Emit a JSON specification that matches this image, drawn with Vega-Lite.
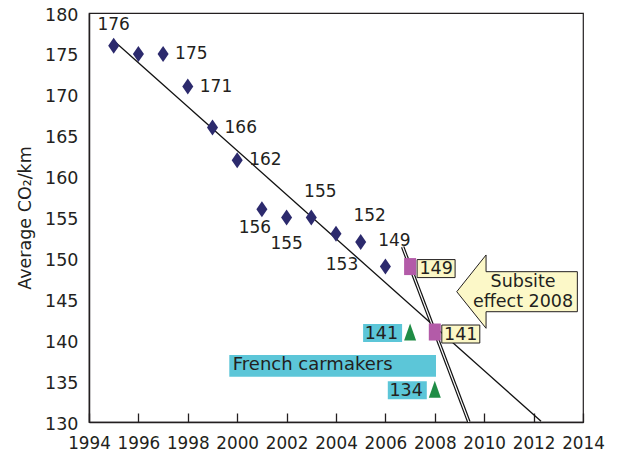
{
  "$schema": "https://vega.github.io/schema/vega-lite/v6.json",
  "width": 494,
  "height": 409,
  "autosize": "none",
  "padding": {"left": 89, "top": 13, "right": 39, "bottom": 32},
  "background": "white",
  "config": {
    "font": "DejaVu Sans",
    "view": {"stroke": "#231f20", "strokeWidth": 1.2},
    "axis": {
      "grid": false,
      "domainColor": "#231f20",
      "domainWidth": 1.5,
      "tickColor": "#231f20",
      "tickWidth": 1.3,
      "labelColor": "#231f20",
      "titleColor": "#231f20",
      "titleFontWeight": "normal",
      "labelOverlap": false,
      "labelFlush": false
    },
    "text": {"font": "DejaVu Sans", "color": "#231f20"}
  },
  "resolve": {"axis": {"x": "independent", "y": "independent"}},
  "datasets": {
    "avg": [
      {"year": 1995, "value": 176, "label": "176", "pos": "above"},
      {"year": 1996, "value": 175, "label": "", "pos": "none"},
      {"year": 1997, "value": 175, "label": "175", "pos": "right"},
      {"year": 1998, "value": 171, "label": "171", "pos": "right"},
      {"year": 1999, "value": 166, "label": "166", "pos": "right"},
      {"year": 2000, "value": 162, "label": "162", "pos": "right"},
      {"year": 2001, "value": 156, "label": "156", "pos": "belowleft"},
      {"year": 2002, "value": 155, "label": "155", "pos": "below"},
      {"year": 2003, "value": 155, "label": "155", "pos": "aboveright"},
      {"year": 2004, "value": 153, "label": "153", "pos": "belowright"},
      {"year": 2005, "value": 152, "label": "152", "pos": "aboveright"},
      {"year": 2006, "value": 149, "label": "149", "pos": "aboveright"}
    ],
    "yticks": [
      {"value": 130}, {"value": 135}, {"value": 140}, {"value": 145}, {"value": 150}, {"value": 155},
      {"value": 160}, {"value": 165}, {"value": 170}, {"value": 175}, {"value": 180}
    ],
    "trend": [
      {"year": 1995, "value": 176.6},
      {"year": 2012.3, "value": 130.1}
    ],
    "target": [
      {"year": 2006.7, "value": 151.4},
      {"year": 2009.38, "value": 130}
    ],
    "subsite": [
      {"year": 2007, "value": 149, "label": "149"},
      {"year": 2008, "value": 141, "label": "141"}
    ],
    "french": [
      {"year": 2007, "value": 141, "label": "141"},
      {"year": 2008, "value": 134, "label": "134"}
    ],
    "caption": [
      {"year": 1999.68, "value": 136.87, "label": "French carmakers"}
    ],
    "arrow": [
      {"year": 2011.33, "value": 145.93, "label": ["Subsite", "effect 2008"]}
    ]
  },
  "encoding": {
    "x": {
      "field": "year",
      "type": "quantitative",
      "scale": {"domain": [1994, 2014], "nice": false, "zero": false},
      "axis": null
    },
    "y": {
      "field": "value",
      "type": "quantitative",
      "scale": {"domain": [130, 180], "nice": false, "zero": false},
      "axis": null
    }
  },
  "layer": [
    {
      "data": {"name": "trend"},
      "mark": {"type": "line", "color": "#111111", "strokeWidth": 1.3, "clip": true},
      "encoding": {
        "x": {
          "field": "year",
          "type": "quantitative",
          "scale": {"domain": [1994, 2014], "nice": false, "zero": false},
          "axis": {
            "title": null,
            "orient": "bottom",
            "values": [1994, 1996, 1998, 2000, 2002, 2004, 2006, 2008, 2010, 2012, 2014],
            "format": "d",
            "labelFontSize": 16.8,
            "ticks": false,
            "tickSize": 0,
            "labelPadding": 13
          }
        },
        "y": {
          "field": "value",
          "type": "quantitative",
          "scale": {"domain": [130, 180], "nice": false, "zero": false},
          "axis": {
            "title": "Average CO₂/km",
            "orient": "left",
            "titleFontSize": 17.5,
            "titleX": -64,
            "titleY": 204.5,
            "titleAlign": "center",
            "titleBaseline": "middle",
            "titleAngle": -90,
            "values": [130, 135, 140, 145, 150, 155, 160, 165, 170, 175, 180],
            "format": "d",
            "labelFontSize": 17.5,
            "ticks": false,
            "tickSize": 0,
            "labelPadding": 11,
            "labelOffset": 2
          }
        }
      }
    },
    {
      "data": {"name": "target"},
      "mark": {"type": "line", "color": "#111111", "strokeWidth": 3.6, "clip": true},
      "encoding": {
        "x": {
          "field": "year",
          "type": "quantitative",
          "scale": {"domain": [1994, 2014], "nice": false, "zero": false},
          "axis": {
            "title": null,
            "orient": "top",
            "offset": -409,
            "values": [1994, 1996, 1998, 2000, 2002, 2004, 2006, 2008, 2010, 2012, 2014],
            "labels": false,
            "domain": false,
            "ticks": true,
            "tickSize": 9
          }
        }
      }
    },
    {
      "data": {"name": "target"},
      "mark": {"type": "line", "color": "white", "strokeWidth": 1.2, "clip": true},
      "encoding": {}
    },
    {
      "data": {"name": "yticks"},
      "mark": {"type": "tick", "orient": "horizontal", "size": 18, "thickness": 1.3, "color": "#231f20", "opacity": 1, "clip": true},
      "encoding": {
        "x": {"datum": 1994, "type": "quantitative", "axis": null}
      }
    },
    {
      "data": {"name": "avg"},
      "mark": {"type": "point", "shape": "M0,-1L0.69,0L0,1L-0.69,0Z", "size": 256, "filled": true, "opacity": 1, "color": "#2c2a6d", "strokeWidth": 0}
    },
    {
      "data": {"name": "avg"},
      "transform": [{"filter": "datum.pos == 'above'"}],
      "mark": {"type": "text", "fontSize": 17, "align": "center", "baseline": "middle", "dy": -21},
      "encoding": {"text": {"field": "label"}}
    },
    {
      "data": {"name": "avg"},
      "transform": [{"filter": "datum.pos == 'right'"}],
      "mark": {"type": "text", "fontSize": 17, "align": "left", "baseline": "middle", "dx": 12, "dy": 0},
      "encoding": {"text": {"field": "label"}}
    },
    {
      "data": {"name": "avg"},
      "transform": [{"filter": "datum.pos == 'belowleft'"}],
      "mark": {"type": "text", "fontSize": 17, "align": "center", "baseline": "middle", "dx": -7, "dy": 19},
      "encoding": {"text": {"field": "label"}}
    },
    {
      "data": {"name": "avg"},
      "transform": [{"filter": "datum.pos == 'below'"}],
      "mark": {"type": "text", "fontSize": 17, "align": "center", "baseline": "middle", "dx": 0, "dy": 26},
      "encoding": {"text": {"field": "label"}}
    },
    {
      "data": {"name": "avg"},
      "transform": [{"filter": "datum.pos == 'aboveright'"}],
      "mark": {"type": "text", "fontSize": 17, "align": "center", "baseline": "middle", "dx": 9, "dy": -26},
      "encoding": {"text": {"field": "label"}}
    },
    {
      "data": {"name": "avg"},
      "transform": [{"filter": "datum.pos == 'belowright'"}],
      "mark": {"type": "text", "fontSize": 17, "align": "center", "baseline": "middle", "dx": 6, "dy": 31},
      "encoding": {"text": {"field": "label"}}
    },
    {
      "data": {"name": "caption"},
      "mark": {"type": "point", "shape": "M0,-0.105L2,-0.105L2,0.105L0,0.105Z", "size": 42725, "filled": true, "opacity": 1, "color": "#5cc6d8", "strokeWidth": 0}
    },
    {
      "data": {"name": "caption"},
      "mark": {"type": "text", "fontSize": 18, "align": "left", "baseline": "middle", "dx": 3.5, "dy": -1},
      "encoding": {"text": {"field": "label"}}
    },
    {
      "data": {"name": "french"},
      "mark": {"type": "point", "shape": "M-0.94,-0.16L-0.16,-0.16L-0.16,0.2L-0.94,0.2Z", "size": 10000, "filled": true, "opacity": 1, "color": "#5cc6d8", "strokeWidth": 0}
    },
    {
      "data": {"name": "french"},
      "mark": {"type": "text", "fontSize": 17.5, "align": "right", "baseline": "middle", "dx": -12, "dy": 1.5},
      "encoding": {"text": {"field": "label"}}
    },
    {
      "data": {"name": "french"},
      "mark": {"type": "point", "shape": "M0,-1L0.706,1L-0.706,1Z", "size": 289, "filled": true, "opacity": 1, "color": "#1f8c45", "strokeWidth": 0}
    },
    {
      "data": {"name": "subsite"},
      "mark": {"type": "point", "shape": "M-0.706,-1L0.706,-1L0.706,1L-0.706,1Z", "size": 289, "filled": true, "opacity": 1, "color": "#b35ba8", "strokeWidth": 0}
    },
    {
      "data": {"name": "subsite"},
      "mark": {"type": "point", "shape": "M0.14,-0.14L0.9,-0.14L0.9,0.22L0.14,0.22Z", "size": 10000, "filled": true, "opacity": 1, "fill": "#fbf7c6", "stroke": "#231f20", "strokeWidth": 1}
    },
    {
      "data": {"name": "subsite"},
      "mark": {"type": "text", "fontSize": 17.5, "align": "center", "baseline": "middle", "dx": 26, "dy": 2.5},
      "encoding": {"text": {"field": "label"}}
    },
    {
      "data": {"name": "arrow"},
      "mark": {"type": "point", "shape": "M-1,0L-0.514,-0.609L-0.514,-0.332L1,-0.332L1,0.332L-0.514,0.332L-0.514,0.607Z", "size": 14544, "filled": true, "opacity": 1, "fill": "#fcf8c8", "stroke": "#231f20", "strokeWidth": 1}
    },
    {
      "data": {"name": "arrow"},
      "mark": {"type": "text", "fontSize": 17.5, "align": "center", "baseline": "middle", "dx": 6, "dy": -10, "lineHeight": 20.6},
      "encoding": {"text": {"field": "label"}}
    }
  ]
}
